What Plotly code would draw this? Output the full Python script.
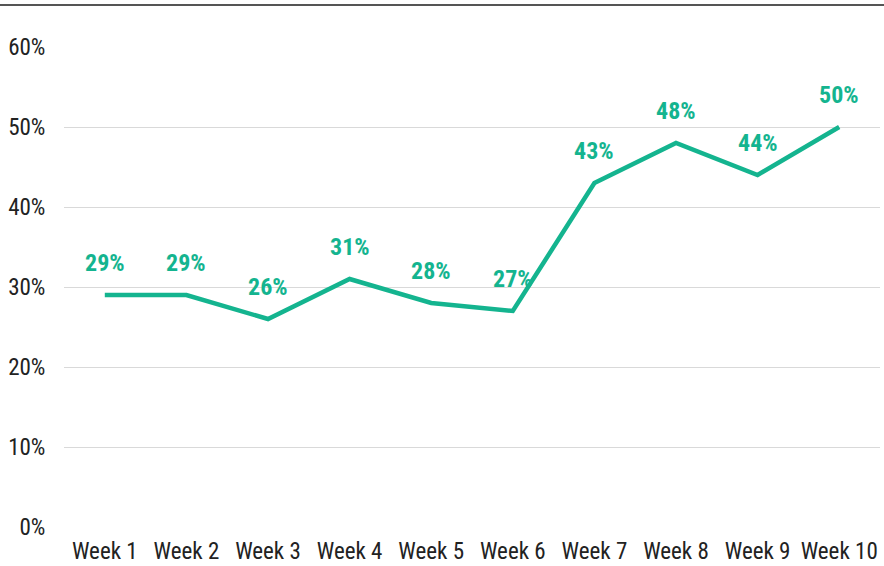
import plotly.graph_objects as go

weeks = ["Week 1", "Week 2", "Week 3", "Week 4", "Week 5",
         "Week 6", "Week 7", "Week 8", "Week 9", "Week 10"]
share = [0.29, 0.29, 0.26, 0.31, 0.28, 0.27, 0.43, 0.48, 0.44, 0.50]
y_ticks = [0, 0.1, 0.2, 0.3, 0.4, 0.5, 0.6]
y_tick_labels = ["0%", "10%", "20%", "30%", "40%", "50%", "60%"]

TEAL = "#14B48F"
NARROW = "Liberation Sans Narrow, Arial Narrow, Roboto Condensed, DejaVu Sans Condensed, Liberation Sans, sans-serif"

fig = go.Figure()
fig.add_trace(go.Scatter(
    x=weeks, y=share, mode="lines",
    line=dict(color=TEAL, width=4.5, shape="linear"),
    hoverinfo="skip", showlegend=False,
))

for w, v in zip(weeks, share):
    fig.add_annotation(
        x=w, y=v, text=f"<b>{round(v*100)}%</b>", showarrow=False,
        yshift=32, font=dict(family=NARROW, size=24, color=TEAL),
    )

fig.add_shape(type="line", xref="paper", yref="paper",
              x0=-64/816, x1=(884-64)/816, y0=(527-5)/480, y1=(527-5)/480,
              line=dict(color="#555555", width=2))

fig.update_layout(
    width=884, height=566,
    margin=dict(l=64, r=4, t=47, b=39),
    plot_bgcolor="white", paper_bgcolor="white",
    font=dict(family=NARROW, size=23, color="#222222"),
)
fig.update_xaxes(range=[-0.5, 9.5], showgrid=False, showline=False, zeroline=False,
                 automargin=False,
                 ticks="outside", ticklen=3, tickcolor="rgba(0,0,0,0)",
                 tickfont=dict(family=NARROW, size=23, color="#222222"))
fig.update_yaxes(range=[0, 0.6], tickvals=y_ticks, ticktext=y_tick_labels,
                 showgrid=True, gridcolor="#D9D9D9", gridwidth=1.3,
                 zeroline=False, showline=False, automargin=False,
                 ticks="outside", ticklen=13, tickcolor="rgba(0,0,0,0)",
                 tickfont=dict(family=NARROW, size=23, color="#222222"))

fig.write_html("out.html", config={"displayModeBar": False},
               post_script="document.body.style.margin='0';")
